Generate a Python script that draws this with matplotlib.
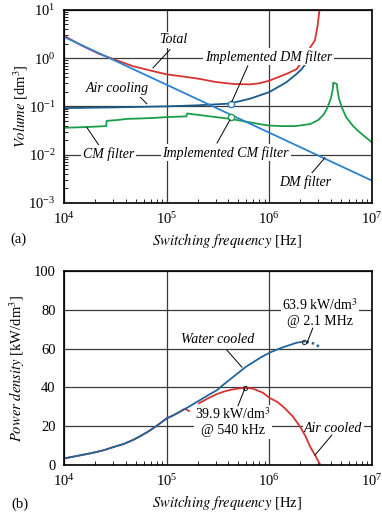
import numpy as np
import matplotlib
matplotlib.use("Agg")
import matplotlib.pyplot as plt
from matplotlib.ticker import LogLocator, NullFormatter, FixedLocator

plt.rcParams['font.family'] = ['Liberation Serif', 'DejaVu Serif']
plt.rcParams['mathtext.fontset'] = 'stix'

# (a) volumes [dm^3] vs switching frequency [Hz]
f_dm = [1e4, 1e7]
v_dm = [2.75, 0.0029]

f_tot = [1e4, 1.5e4, 2.2e4, 3e4, 4.7e4, 7e4, 1e5, 1.5e5, 2.1e5, 3e5, 4.5e5, 6.5e5,
         8e5, 1e6, 1.47e6, 1.85e6, 2.2e6, 2.5e6, 2.78e6, 2.95e6, 3.1e6]
v_tot = [2.9, 1.8, 1.22, 0.96, 0.68, 0.55, 0.46, 0.41, 0.37, 0.32, 0.29, 0.285,
         0.3, 0.34, 0.47, 0.59, 1.0, 1.65, 2.3, 4.5, 10.5]

f_air = [1e4, 3e4, 1e5, 2e5, 4.1e5, 6.5e5, 1e6, 1.47e6, 1.85e6, 2.07e6, 2.3e6]
v_air = [0.092, 0.095, 0.10, 0.105, 0.114, 0.144, 0.197, 0.316, 0.47, 0.59, 0.8]

f_cm = [1e4, 1.5e4, 2e4, 2.58e4, 2.6e4, 3.3e4, 4.1e4, 5.5e4, 8e4, 1e5, 1.56e5, 1.58e5,
        2.1e5, 3e5, 4.2e5, 6e5, 8e5, 1e6, 1.3e6, 1.8e6, 2.5e6, 3e6, 3.4e6, 3.7e6,
        4e6, 4.15e6, 4.2e6, 4.55e6, 4.65e6, 4.8e6, 5.1e6, 5.6e6, 6.5e6, 7.6e6, 1e7]
v_cm = [0.036, 0.037, 0.038, 0.039, 0.050, 0.052, 0.055, 0.056, 0.058, 0.060, 0.062, 0.071,
        0.066, 0.060, 0.055, 0.048, 0.043, 0.040, 0.039, 0.039, 0.043, 0.052, 0.068, 0.095,
        0.15, 0.22, 0.31, 0.29, 0.2, 0.14, 0.095, 0.06, 0.04, 0.029, 0.018]

impl_f = 4.2e5
impl_dm = 0.113
impl_cm = 0.060

# (b) power density [kW/dm^3]
f_water = [1e4, 1.2e4, 1.5e4, 1.8e4, 2.1e4, 2.5e4, 3e4, 3.8e4, 4.7e4, 5.5e4, 6.5e4, 8e4,
           1e5, 1.15e5, 1.3e5, 1.62e5, 1.9e5, 2.2e5, 2.6e5, 3.1e5, 3.6e5, 4.6e5, 6e5,
           8.5e5, 1.05e6, 1.3e6, 1.58e6, 1.85e6, 2.2e6]
p_water = [3.4, 4.2, 5.2, 6.0, 6.8, 7.8, 9.2, 10.8, 12.9, 14.8, 17.0, 20.2,
           24.0, 25.5, 27.0, 29.8, 32.0, 34.0, 36.3, 38.6, 41.5, 46.0, 50.8,
           55.8, 58.3, 60.3, 61.8, 63.0, 63.6]
f_water_end = [2.3e6, 2.7e6, 3.2e6]
p_water_end = [63.5, 62.6, 60.5]

f_aircool = [1e4, 1.2e4, 1.5e4, 1.8e4, 2.1e4, 2.5e4, 3e4, 3.8e4, 4.7e4, 5.5e4, 6.5e4, 8e4,
             1e5, 1.15e5, 1.3e5, 1.5e5, 1.65e5, np.nan,
             2.07e5, 2.5e5, 3.07e5, 3.7e5, 4.45e5, 5.8e5, 7e5, 8.7e5, 1e6, 1.2e6,
             1.37e6, 1.7e6, 2e6, 2.25e6, 2.5e6, 2.8e6, 3.15e6]
p_aircool = [3.4, 4.2, 5.2, 6.0, 6.8, 7.8, 9.2, 10.8, 12.9, 14.8, 17.0, 20.2,
             24.0, 25.5, 27.0, 29.0, 27.9, np.nan,
             31.8, 34.2, 36.5, 38.0, 39.0, 39.9, 39.3, 37.2, 34.7, 32.5,
             30.0, 25.0, 19.7, 15.0, 9.5, 5.0, 0.0]
peak_f = [5.8e5, 2.2e6]
peak_p = [39.9, 63.6]

red = '#d63333'
lblue = '#2b82cf'
dblue = '#1c5a8a'
green = '#1a9e4a'
wblue = '#1f6699'
gridc = '#3a3a3a'

fig = plt.figure(figsize=(3.82, 5.15), dpi=100)
ax1 = fig.add_axes([0.1675, 0.606, 0.806, 0.375])
ax2 = fig.add_axes([0.1675, 0.097, 0.806, 0.377])

lab = dict(fontsize=10, style='italic', ha='center', va='center', zorder=6,
           bbox=dict(facecolor='white', edgecolor='none', pad=1.2))
lab_low = dict(fontsize=10, style='italic', ha='center', va='center', zorder=2,
               bbox=dict(facecolor='white', edgecolor='none', pad=1.2))
lab_up = dict(fontsize=10, ha='center', va='center', zorder=2,
              bbox=dict(facecolor='white', edgecolor='none', pad=1.0))


def leader(ax, p0, p1):
    ax.plot([p0[0], p1[0]], [p0[1], p1[1]], color='black', lw=0.7,
            transform=ax.transAxes, zorder=5)


# ---- (a)
ax1.plot(f_tot, v_tot, color=red, lw=1.3, zorder=3)
ax1.plot(f_air, v_air, color=dblue, lw=1.3, zorder=3)
ax1.plot(f_cm, v_cm, color=green, lw=1.3, zorder=3)
ax1.plot(f_dm, v_dm, color=lblue, lw=1.3, zorder=3)
ax1.plot([impl_f], [impl_dm], 'o', mfc='white', mec=lblue, ms=4.5, mew=1.0, zorder=4)
ax1.plot([impl_f], [impl_cm], 'o', mfc='white', mec=green, ms=4.5, mew=1.0, zorder=4)
ax1.set_xscale('log')
ax1.set_yscale('log')
ax1.set_xlim(1e4, 1e7)
ax1.set_ylim(1e-3, 1e1)

ax1.text(0.354, 0.845, 'Total', transform=ax1.transAxes, **lab)
leader(ax1, (0.344, 0.793), (0.289, 0.699))
ax1.text(0.665, 0.756, 'Implemented DM filter', transform=ax1.transAxes, **lab)
leader(ax1, (0.597, 0.71), (0.545, 0.523))
ax1.text(0.172, 0.591, 'Air cooling', transform=ax1.transAxes, **lab)
leader(ax1, (0.247, 0.549), (0.269, 0.513))
ax1.text(0.145, 0.254, 'CM filter', transform=ax1.transAxes, **lab)
leader(ax1, (0.075, 0.389), (0.117, 0.29))
ax1.text(0.525, 0.259, 'Implemented CM filter', transform=ax1.transAxes, **lab)
leader(ax1, (0.497, 0.31), (0.539, 0.43))
ax1.text(0.782, 0.109, 'DM filter', transform=ax1.transAxes, **lab)
leader(ax1, (0.805, 0.155), (0.847, 0.233))

ax1.set_ylabel(r'$\mathit{Volume}$ [dm$^3$]', fontsize=10.5)
ax1.yaxis.set_label_coords(-0.112, 0.5)
ax1.set_xlabel(r'$\mathit{Switching\ frequency}$ [Hz]', fontsize=10.5)
ax1.xaxis.set_label_coords(0.53, -0.145)
ax1.yaxis.set_minor_locator(LogLocator(base=10, subs=np.arange(2, 10), numticks=20))
ax1.yaxis.set_minor_formatter(NullFormatter())

# ---- (b)
ax2.plot(f_aircool, p_aircool, color=red, lw=1.3, zorder=3)
ax2.plot(f_water, p_water, color=wblue, lw=1.3, zorder=3)
ax2.plot(f_water_end, p_water_end, color=wblue, lw=1.8, ls=(0, (1, 1.2)), zorder=3)
ax2.plot(peak_f, peak_p, 'o', mfc='none', mec='#333333', ms=3, mew=0.8, zorder=4)
ax2.set_xscale('log')
ax2.set_xlim(1e4, 1e7)
ax2.set_ylim(0, 100)
ax2.yaxis.set_major_locator(FixedLocator([0, 20, 40, 60, 80, 100]))

ax2.text(0.5, 0.647, 'Water cooled', transform=ax2.transAxes, **lab_low)
leader(ax2, (0.529, 0.592), (0.578, 0.504))
ax2.text(0.831, 0.787, '63.9 kW/dm$^3$\n@ 2.1 MHz', transform=ax2.transAxes,
         linespacing=1.2, **lab_up)
leader(ax2, (0.808, 0.705), (0.789, 0.628))
ax2.text(0.549, 0.222, '39.9 kW/dm$^3$\n@ 540 kHz', transform=ax2.transAxes,
         linespacing=1.2, **lab_up)
leader(ax2, (0.565, 0.305), (0.588, 0.396))
ax2.text(0.875, 0.187, 'Air cooled', transform=ax2.transAxes, **lab_low)
leader(ax2, (0.87, 0.154), (0.815, 0.051))

ax2.set_ylabel(r'$\mathit{Power\ density}$ [kW/dm$^3$]', fontsize=10.5)
ax2.yaxis.set_label_coords(-0.12, 0.5)
ax2.set_xlabel(r'$\mathit{Switching\ frequency}$ [Hz]', fontsize=10.5)
ax2.xaxis.set_label_coords(0.53, -0.145)

for ax in (ax1, ax2):
    ax.xaxis.set_major_locator(LogLocator(base=10, numticks=10))
    ax.xaxis.set_minor_locator(LogLocator(base=10, subs=np.arange(2, 10), numticks=20))
    ax.xaxis.set_minor_formatter(NullFormatter())
    ax.grid(True, which='major', color=gridc, lw=0.9, zorder=1)
    ax.tick_params(which='major', direction='in', length=0, labelsize=10.5, pad=6)
    ax.tick_params(which='minor', direction='in', length=3, width=0.6)
    for s in ax.spines.values():
        s.set_linewidth(1.2)
        s.set_zorder(7)
    ax.set_axisbelow(True)

ax2.tick_params(axis='y', which='minor', length=0)

fig.text(0.047, 0.536, '(a)', fontsize=10.5, ha='center', va='center')
fig.text(0.052, 0.021, '(b)', fontsize=10.5, ha='center', va='center')

fig.savefig('out.png', dpi=100)
